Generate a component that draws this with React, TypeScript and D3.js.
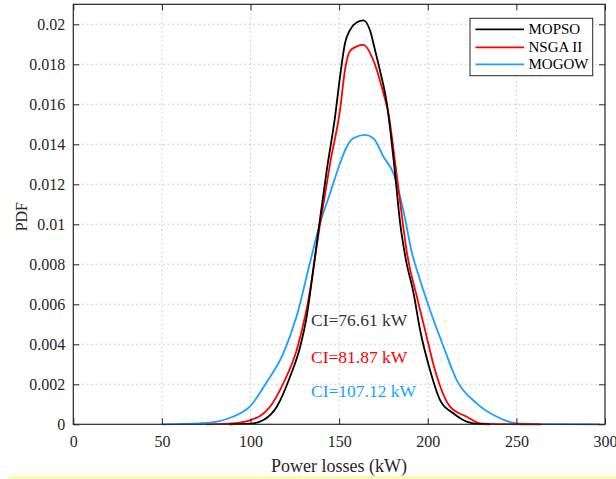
import React, { useEffect, useRef } from 'react';
import * as d3 from 'd3';

// power losses (kW) vs PDF
const mopsoX = [88, 100, 107, 114.8, 122.3, 128, 131.7, 133.6, 138.8, 143, 147.7, 150.5, 153.3, 156, 160, 163.7, 167.4, 170, 173, 176.9, 181, 184.5, 187.5, 191.9, 195.7, 201.3, 207, 214.4, 222, 227.6, 235];
const mopsoY = [0, 0.00003, 0.0002, 0.00088, 0.00238, 0.00388, 0.0054, 0.00655, 0.01, 0.0127, 0.01538, 0.01738, 0.01905, 0.0197, 0.0201, 0.0202, 0.0197, 0.0188, 0.0177, 0.01605, 0.013, 0.01, 0.0083, 0.0066, 0.0047, 0.0027, 0.0012, 0.00055, 0.00013, 0.00002, 0];

const nsgaX = [75, 90, 99.7, 111, 118.5, 126, 130.8, 132.6, 139.2, 145, 150.5, 153.3, 156, 160, 163.7, 169.3, 175, 177.8, 182, 186, 188, 193.8, 198.5, 204.1, 212.6, 222, 229.5, 240, 264];
const nsgaY = [0, 0.00005, 0.0002, 0.00088, 0.00205, 0.0037, 0.0054, 0.0062, 0.01, 0.0131, 0.01572, 0.01772, 0.01865, 0.0189, 0.01897, 0.0182, 0.01655, 0.01555, 0.0128, 0.01, 0.0087, 0.0064, 0.0047, 0.0027, 0.00088, 0.00038, 0.00005, 0.00001, 0];

const mogowX = [50, 71.5, 81, 90, 99.7, 109.1, 118.5, 126, 133.6, 139.2, 144.9, 150.5, 154.3, 158, 164.6, 169.3, 175, 180.6, 186.2, 191, 195.7, 201.3, 208.8, 216.4, 227.6, 239, 250.2, 270, 297];
const mogowY = [0, 0.00005, 0.00013, 0.00038, 0.0009, 0.0021, 0.00355, 0.0054, 0.0081, 0.01005, 0.01155, 0.01305, 0.01388, 0.0143, 0.01447, 0.0143, 0.01338, 0.01255, 0.0107, 0.0086, 0.0072, 0.0057, 0.0039, 0.0022, 0.00105, 0.00038, 0.00005, 0.00001, 0];

const seriesNames = ['MOPSO', 'NSGA II', 'MOGOW'];
const seriesColors = ['#000000', '#ff0000', '#1a9fff'];
const ciLabels = ['CI=76.61 kW', 'CI=81.87 kW', 'CI=107.12 kW'];
const ciColors = ['#333333', '#ff0000', '#1a9fff'];

const xTicks = [0, 50, 100, 150, 200, 250, 300];
const yTicks = [0, 0.002, 0.004, 0.006, 0.008, 0.01, 0.012, 0.014, 0.016, 0.018, 0.02];

const FONT = "'Liberation Serif', serif";

const App = () => {
  const ref = useRef<SVGSVGElement>(null);

  useEffect(() => {
    const svg = d3.select(ref.current);
    svg.selectAll('*').remove();
    const axisCol = '#262626';

    const left = 73.3, right = 605, top = 4.3, bottom = 424.3;
    const x = d3.scaleLinear().domain([0, 300]).range([left, right]);
    const y = d3.scaleLinear().domain([0, 0.021]).range([bottom, top]);

    // grid
    const grid = svg.append('g').attr('stroke', '#b5b5b5').attr('stroke-width', 0.8).attr('stroke-dasharray', '1.5,3');
    xTicks.slice(1, -1).forEach(t => {
      grid.append('line').attr('x1', x(t)).attr('x2', x(t)).attr('y1', top).attr('y2', bottom);
    });
    yTicks.slice(1).forEach(t => {
      grid.append('line').attr('x1', left).attr('x2', right).attr('y1', y(t)).attr('y2', y(t));
    });

    // curves
    const line = d3.line<[number, number]>().x(d => x(d[0])).y(d => y(d[1])).curve(d3.curveMonotoneX);
    const data = [
      d3.zip(mopsoX, mopsoY),
      d3.zip(nsgaX, nsgaY),
      d3.zip(mogowX, mogowY),
    ];
    // blue first, then red, then black on top
    [2, 1, 0].forEach(i => {
      svg.append('path')
        .attr('d', line(data[i] as [number, number][]))
        .attr('fill', 'none')
        .attr('stroke', seriesColors[i])
        .attr('stroke-width', 1.8);
    });

    // axes
    const xAxis = svg.append('g').attr('transform', `translate(0,${bottom})`)
      .call(d3.axisBottom(x).tickValues(xTicks).tickSizeInner(-6).tickSizeOuter(0).tickPadding(11).tickFormat(d3.format('d')));
    const xTop = svg.append('g').attr('transform', `translate(0,${top})`)
      .call(d3.axisTop(x).tickValues(xTicks).tickSizeInner(-6).tickSizeOuter(0).tickFormat(() => ''));
    const yAxis = svg.append('g').attr('transform', `translate(${left},0)`)
      .call(d3.axisLeft(y).tickValues(yTicks).tickSizeInner(-6).tickSizeOuter(0).tickPadding(8).tickFormat(d => (+d === 0 ? '0' : String(+d))));
    const yRight = svg.append('g').attr('transform', `translate(${right},0)`)
      .call(d3.axisRight(y).tickValues(yTicks).tickSizeInner(-6).tickSizeOuter(0).tickFormat(() => ''));

    [xAxis, xTop, yAxis, yRight].forEach(g => {
      g.attr('font-family', FONT).attr('font-size', 16);
      g.select('.domain').remove();
      g.selectAll('line').attr('stroke', axisCol).attr('stroke-width', 1);
      g.selectAll('text').attr('fill', axisCol);
    });
    xAxis.selectAll('text').attr('dy', '0.71em');

    svg.append('rect')
      .attr('x', left).attr('y', top).attr('width', right - left).attr('height', bottom - top)
      .attr('fill', 'none').attr('stroke', axisCol).attr('stroke-width', 1.2);

    // labels
    svg.append('text')
      .attr('x', 339).attr('y', 472)
      .attr('text-anchor', 'middle')
      .attr('fill', axisCol)
      .attr('font-family', FONT).attr('font-size', 18)
      .text('Power losses (kW)');
    svg.append('text')
      .attr('transform', 'translate(26.5,216.7) rotate(-90)')
      .attr('text-anchor', 'middle')
      .attr('fill', axisCol)
      .attr('font-family', FONT).attr('font-size', 16)
      .text('PDF');

    // CI annotations
    const ciY = [326, 363, 397];
    ciLabels.forEach((t, i) => {
      svg.append('text')
        .attr('x', 311).attr('y', ciY[i])
        .attr('fill', ciColors[i])
        .attr('font-family', FONT).attr('font-size', 17.5)
        .text(t);
    });

    // legend
    const lg = svg.append('g');
    lg.append('rect')
      .attr('x', 470).attr('y', 18.3).attr('width', 122.7).attr('height', 57.4)
      .attr('fill', '#fff').attr('stroke', axisCol).attr('stroke-width', 1);
    const rowY = [29.3, 47.3, 64.3];
    seriesNames.forEach((n, i) => {
      lg.append('line')
        .attr('x1', 475.5).attr('x2', 524).attr('y1', rowY[i]).attr('y2', rowY[i])
        .attr('stroke', seriesColors[i]).attr('stroke-width', 1.8);
      lg.append('text')
        .attr('x', 528.5).attr('y', rowY[i]).attr('dy', '0.33em')
        .attr('fill', '#000')
        .attr('font-family', FONT).attr('font-size', 15)
        .text(n);
    });

    // thin yellow rule at the bottom
    svg.append('line')
      .attr('x1', 8).attr('x2', 616).attr('y1', 477.5).attr('y2', 477.5)
      .attr('stroke', '#ffff66').attr('stroke-width', 1.5);
  }, []);

  return (
    <div className="App">
      <svg ref={ref} width={616} height={479} style={{ position: 'absolute', left: 0, top: 0, background: '#fff' }}></svg>
    </div>
  );
};

export default App;
